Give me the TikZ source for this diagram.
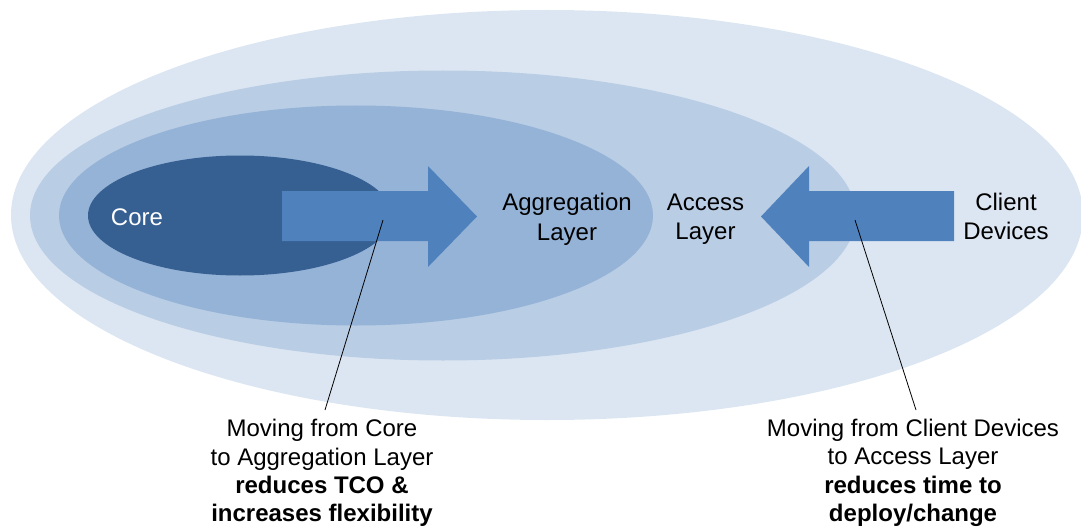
\documentclass[tikz,border=0pt]{standalone}
\usepackage{fontspec}
\setmainfont{Liberation Sans}
\definecolor{ringA}{HTML}{DCE6F2}
\definecolor{ringB}{HTML}{B9CDE5}
\definecolor{ringC}{HTML}{95B3D7}
\definecolor{coreC}{HTML}{376092}
\definecolor{arrowC}{HTML}{4F81BD}
\begin{document}
\begin{tikzpicture}[x=1pt,y=-1pt,
  lbl/.style={inner sep=0pt,align=center,font={\fontsize{24}{29.3}\selectfont}},
  note/.style={inner sep=0pt,align=center,font={\fontsize{24}{28.4}\selectfont}},
  leader/.style={draw=black,line width=0.8pt},
  bigarrow/.style={fill=arrowC}]
\useasboundingbox (0,0) rectangle (1081,532);
% nested ellipses
\fill[ringA] (547,215) ellipse [x radius=536, y radius=205];
\fill[ringB] (443,215.5) ellipse [x radius=413, y radius=145];
\fill[ringC] (356,215.5) ellipse [x radius=297, y radius=110];
\fill[coreC] (240,215.5) ellipse [x radius=152, y radius=60];
% arrows
\fill[bigarrow] (282,191) -- (428,191) -- (428,166) -- (477,216.5) -- (428,267) -- (428,241) -- (282,241) -- cycle;
\fill[bigarrow] (954,191) -- (809,191) -- (809,166) -- (761,216.5) -- (809,267) -- (809,241) -- (954,241) -- cycle;
% labels
\node[lbl,text=white] (core) at (137,217) {Core};
\node[lbl] (agg) at (567,219.3) {Aggregation\\Layer};
\node[lbl] (acc) at (705.5,219.3) {Access\\Layer};
\node[lbl] (cli) at (1006,216.6) {Client\\Devices};
\node[note] (n1) at (322,473) {Moving from Core\\to Aggregation Layer\\\textbf{reduces TCO \&}\\\textbf{increases flexibility}};
\node[note] (n2) at (913,473) {Moving from Client Devices\\to Access Layer\\\textbf{reduces time to}\\\textbf{deploy/change}};
% leaders
\coordinate (p1) at (383,220);
\coordinate (p2) at (855,220);
\coordinate (q1) at (325,410);
\coordinate (q2) at (916,410);
\draw[leader] (p1) -- (q1);
\draw[leader] (p2) -- (q2);
\end{tikzpicture}
\end{document}
